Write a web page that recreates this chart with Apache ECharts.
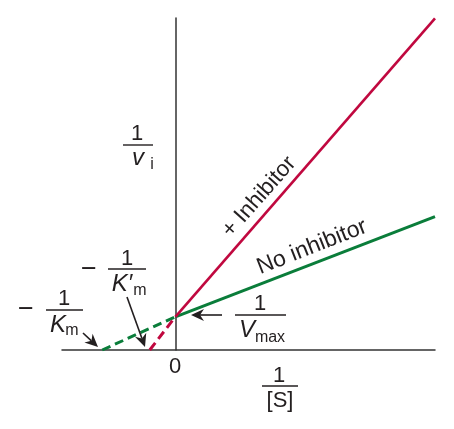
<!DOCTYPE html>
<html>
<head>
<meta charset="utf-8">
<script src="https://cdn.jsdelivr.net/npm/echarts@6/dist/echarts.min.js"></script>
<style>
html,body{margin:0;padding:0;background:#fff;}
#c{width:454px;height:429px;}
</style>
</head>
<body>
<div id="c"></div>
<script>
// Lineweaver–Burk plot values (x = 1/[S], y = 1/v_i)
const xRange = [-1.55, 3.55];
const yRange = [0, 11];
const noInhibitorDashed = [[-1.0, 0], [0, 1.1]];
const noInhibitorSolid = [[0, 1.1], [3.55, 4.42]];
const inhibitorDashed = [[-0.35, 0], [0, 1.1]];
const inhibitorSolid = [[0, 1.1], [3.55, 10.99]];

const RED = '#c0083f';
const GREEN = '#0a7d3a';
const INK = '#231f20';
const FONT = '"Liberation Sans", Arial, Helvetica, sans-serif';

const chart = echarts.init(document.getElementById('c'));

function txt(x, y, s, size, opts) {
  opts = opts || {};
  return {
    type: 'text', x: x, y: y, rotation: opts.rot || 0, z: 10,
    style: {
      text: s,
      font: (opts.italic ? 'italic ' : '') + size + 'px ' + FONT,
      fill: INK,
      align: 'center', verticalAlign: 'middle',
      textAlign: 'center', textVerticalAlign: 'middle'
    }
  };
}
function bar(x1, x2, y) {
  return { type: 'line', z: 10, shape: { x1: x1, y1: y, x2: x2, y2: y },
    style: { stroke: INK, lineWidth: 1.4 } };
}
function arrow(tx, ty, hx, hy) {
  const dx = hx - tx, dy = hy - ty;
  const L = Math.sqrt(dx * dx + dy * dy);
  const ux = dx / L, uy = dy / L;
  const px = -uy, py = ux;
  const hl = 13, hw = 6, notch = 9;
  const bx = hx - ux * hl, by = hy - uy * hl;
  const nx = hx - ux * notch, ny = hy - uy * notch;
  return [
    { type: 'line', z: 10, shape: { x1: tx, y1: ty, x2: nx, y2: ny },
      style: { stroke: INK, lineWidth: 1.6 } },
    { type: 'polygon', z: 10,
      shape: { points: [[hx, hy], [bx + px * hw, by + py * hw], [nx, ny], [bx - px * hw, by - py * hw]] },
      style: { fill: INK } }
  ];
}

const M = 22, S = 16, I = 24, MINUS = 27;
const graphics = [].concat(
  // 1 / v_i
  [txt(137, 134, '1', M), bar(123, 153, 145), txt(138, 158, 'v', I, { italic: true }), txt(152, 165, 'i', S)],
  // + Inhibitor / No inhibitor
  [txt(259, 197, '+ Inhibitor', 22.5, { rot: 48.5 * Math.PI / 180 })],
  [txt(312, 247, 'No inhibitor', 23, { rot: 21.5 * Math.PI / 180 })],
  // - 1/K'm
  [txt(89, 270, '\u2212', MINUS), txt(127, 259, '1', M), bar(108, 146, 269),
   txt(122, 284, 'K\u2032', I, { italic: true }), txt(140, 291, 'm', S)],
  arrow(127, 297, 145, 347),
  // - 1/Km
  [txt(26, 310, '\u2212', MINUS), txt(64, 299, '1', M), bar(46, 83, 310),
   txt(58, 325, 'K', I, { italic: true }), txt(72, 331, 'm', S)],
  arrow(83, 333, 98, 347),
  // 1/Vmax
  arrow(222, 315, 191, 315),
  [txt(260, 304, '1', M), bar(235, 286, 315), txt(247, 330, 'V', I, { italic: true }), txt(270, 338, 'max', S)],
  // 0 and 1/[S]
  [txt(175, 367, '0', M)],
  [txt(279, 376, '1', M), bar(262, 298, 386), txt(280, 401, '[S]', M)]
);

function lineSeries(data, color, width, dashed) {
  return {
    type: 'line', data: data, showSymbol: false, symbol: 'none', z: 5,
    lineStyle: { color: color, width: width, type: dashed ? [9, 5] : 'solid', cap: 'butt' },
    silent: true
  };
}

chart.setOption({
  animation: false,
  backgroundColor: '#fff',
  grid: { left: 62, right: 19, top: 18, bottom: 79, containLabel: false },
  xAxis: {
    type: 'value', min: xRange[0], max: xRange[1],
    axisLine: { show: true, onZero: true, lineStyle: { color: '#333', width: 1.5 } },
    axisTick: { show: false }, axisLabel: { show: false }, splitLine: { show: false }
  },
  yAxis: {
    type: 'value', min: yRange[0], max: yRange[1],
    axisLine: { show: true, onZero: true, lineStyle: { color: '#333', width: 1.5 } },
    axisTick: { show: false }, axisLabel: { show: false }, splitLine: { show: false }
  },
  series: [
    lineSeries(noInhibitorDashed, GREEN, 3, true),
    lineSeries(noInhibitorSolid, GREEN, 3, false),
    lineSeries(inhibitorDashed, RED, 3, true),
    lineSeries(inhibitorSolid, RED, 2.6, false)
  ],
  graphic: { elements: graphics }
});
</script>
</body>
</html>
